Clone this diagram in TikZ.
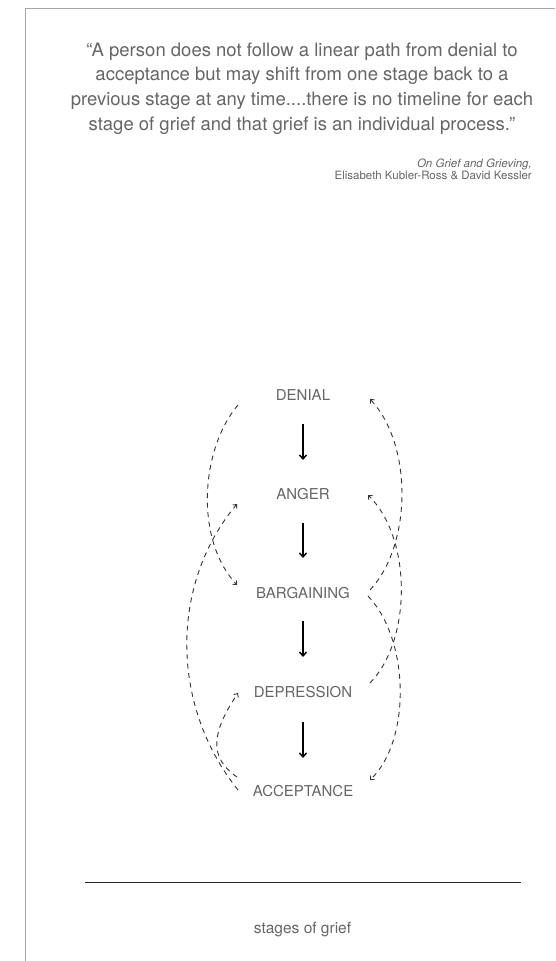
\documentclass[tikz,border=0pt]{standalone}
\usepackage{fontspec}
\setmainfont{TeX Gyre Heros}
\usetikzlibrary{arrows.meta,calc}
\definecolor{txtgray}{HTML}{666666}
\definecolor{framegray}{HTML}{A6A6A6}
\definecolor{dashcol}{HTML}{333333}
\begin{document}
\begin{tikzpicture}[x=1pt,y=-1pt,
  stage/.style={text=txtgray, font=\fontsize{15}{15}\selectfont, inner sep=0pt},
  flow/.style={line width=1.4pt, -{Straight Barb[length=4pt,width=7pt]}},
  backarc/.style={draw=dashcol, line width=0.9pt, dash pattern=on 5pt off 4.5pt, -{Straight Barb[length=3pt,width=5.5pt]}},
]
\useasboundingbox (0,0) rectangle (555,961);
\fill[white] (0,0) rectangle (555,961);
% frame
\draw[framegray, line width=1.3pt] (25.5,961) -- (25.5,8.5) -- (555,8.5);

% quote
\node[text=txtgray, align=center, font=\fontsize{18.5}{24.8}\selectfont, inner sep=0pt] (quote) at (302,88.5)
 {“A person does not follow a linear path from denial to\\
  acceptance but may shift from one stage back to a\\
  previous stage at any time....there is no timeline for each\\
  stage of grief and that grief is an individual process.”};
\node[text=txtgray, align=right, anchor=north east, font=\fontsize{11.5}{11.8}\selectfont, inner sep=0pt] (cite) at (532,159)
 {\textit{On Grief and Grieving,}\\Elisabeth Kubler-Ross \& David Kessler};

% stages
\node[stage] (denial) at (303,395) {DENIAL};
\node[stage] (anger) at (303,494.5) {ANGER};
\node[stage] (barg) at (303,593) {BARGAINING};
\node[stage] (depr) at (303,692) {DEPRESSION};
\node[stage] (acc) at (303,791.5) {ACCEPTANCE};

% main flow
\draw[flow] ($(denial)+(0,29)$) -- ($(anger)+(0,-34.5)$);
\draw[flow] ($(anger)+(0,28.5)$) -- ($(barg)+(0,-35)$);
\draw[flow] ($(barg)+(0,28)$) -- ($(depr)+(0,-35)$);
\draw[flow] ($(depr)+(0,30)$) -- ($(acc)+(0,-33.5)$);

% left arcs
\draw[backarc] ($(denial)+(-65,10)$) .. controls +(-38,45) and +(-42,-45) .. ($(barg)+(-66,-8)$);
\draw[backarc] ($(acc)+(-65,-1.5)$) .. controls +(-68,-85) and +(-67,80) .. ($(anger)+(-66,9.5)$);
\draw[backarc] ($(acc)+(-66,-14.5)$) .. controls +(-29,-20) and +(-26,39) .. ($(depr)+(-65,1)$);

% right arcs
\draw[backarc] ($(barg)+(67,-3)$) .. controls +(42,-45) and +(43,46) .. ($(denial)+(67,4)$);
\draw[backarc] ($(depr)+(67,-9)$) .. controls +(42,-43) and +(44,43) .. ($(anger)+(65,0.5)$);
\draw[backarc] ($(barg)+(65,3)$) .. controls +(42,44) and +(41,-39) .. ($(acc)+(67,-11.5)$);

% caption
\draw[line width=1pt, black!85] (85,882) -- (521,882);
\node[text=txtgray, font=\fontsize{15.5}{16}\selectfont, inner sep=0pt] (caption) at (302.5,930) {stages of grief};
\end{tikzpicture}
\end{document}
